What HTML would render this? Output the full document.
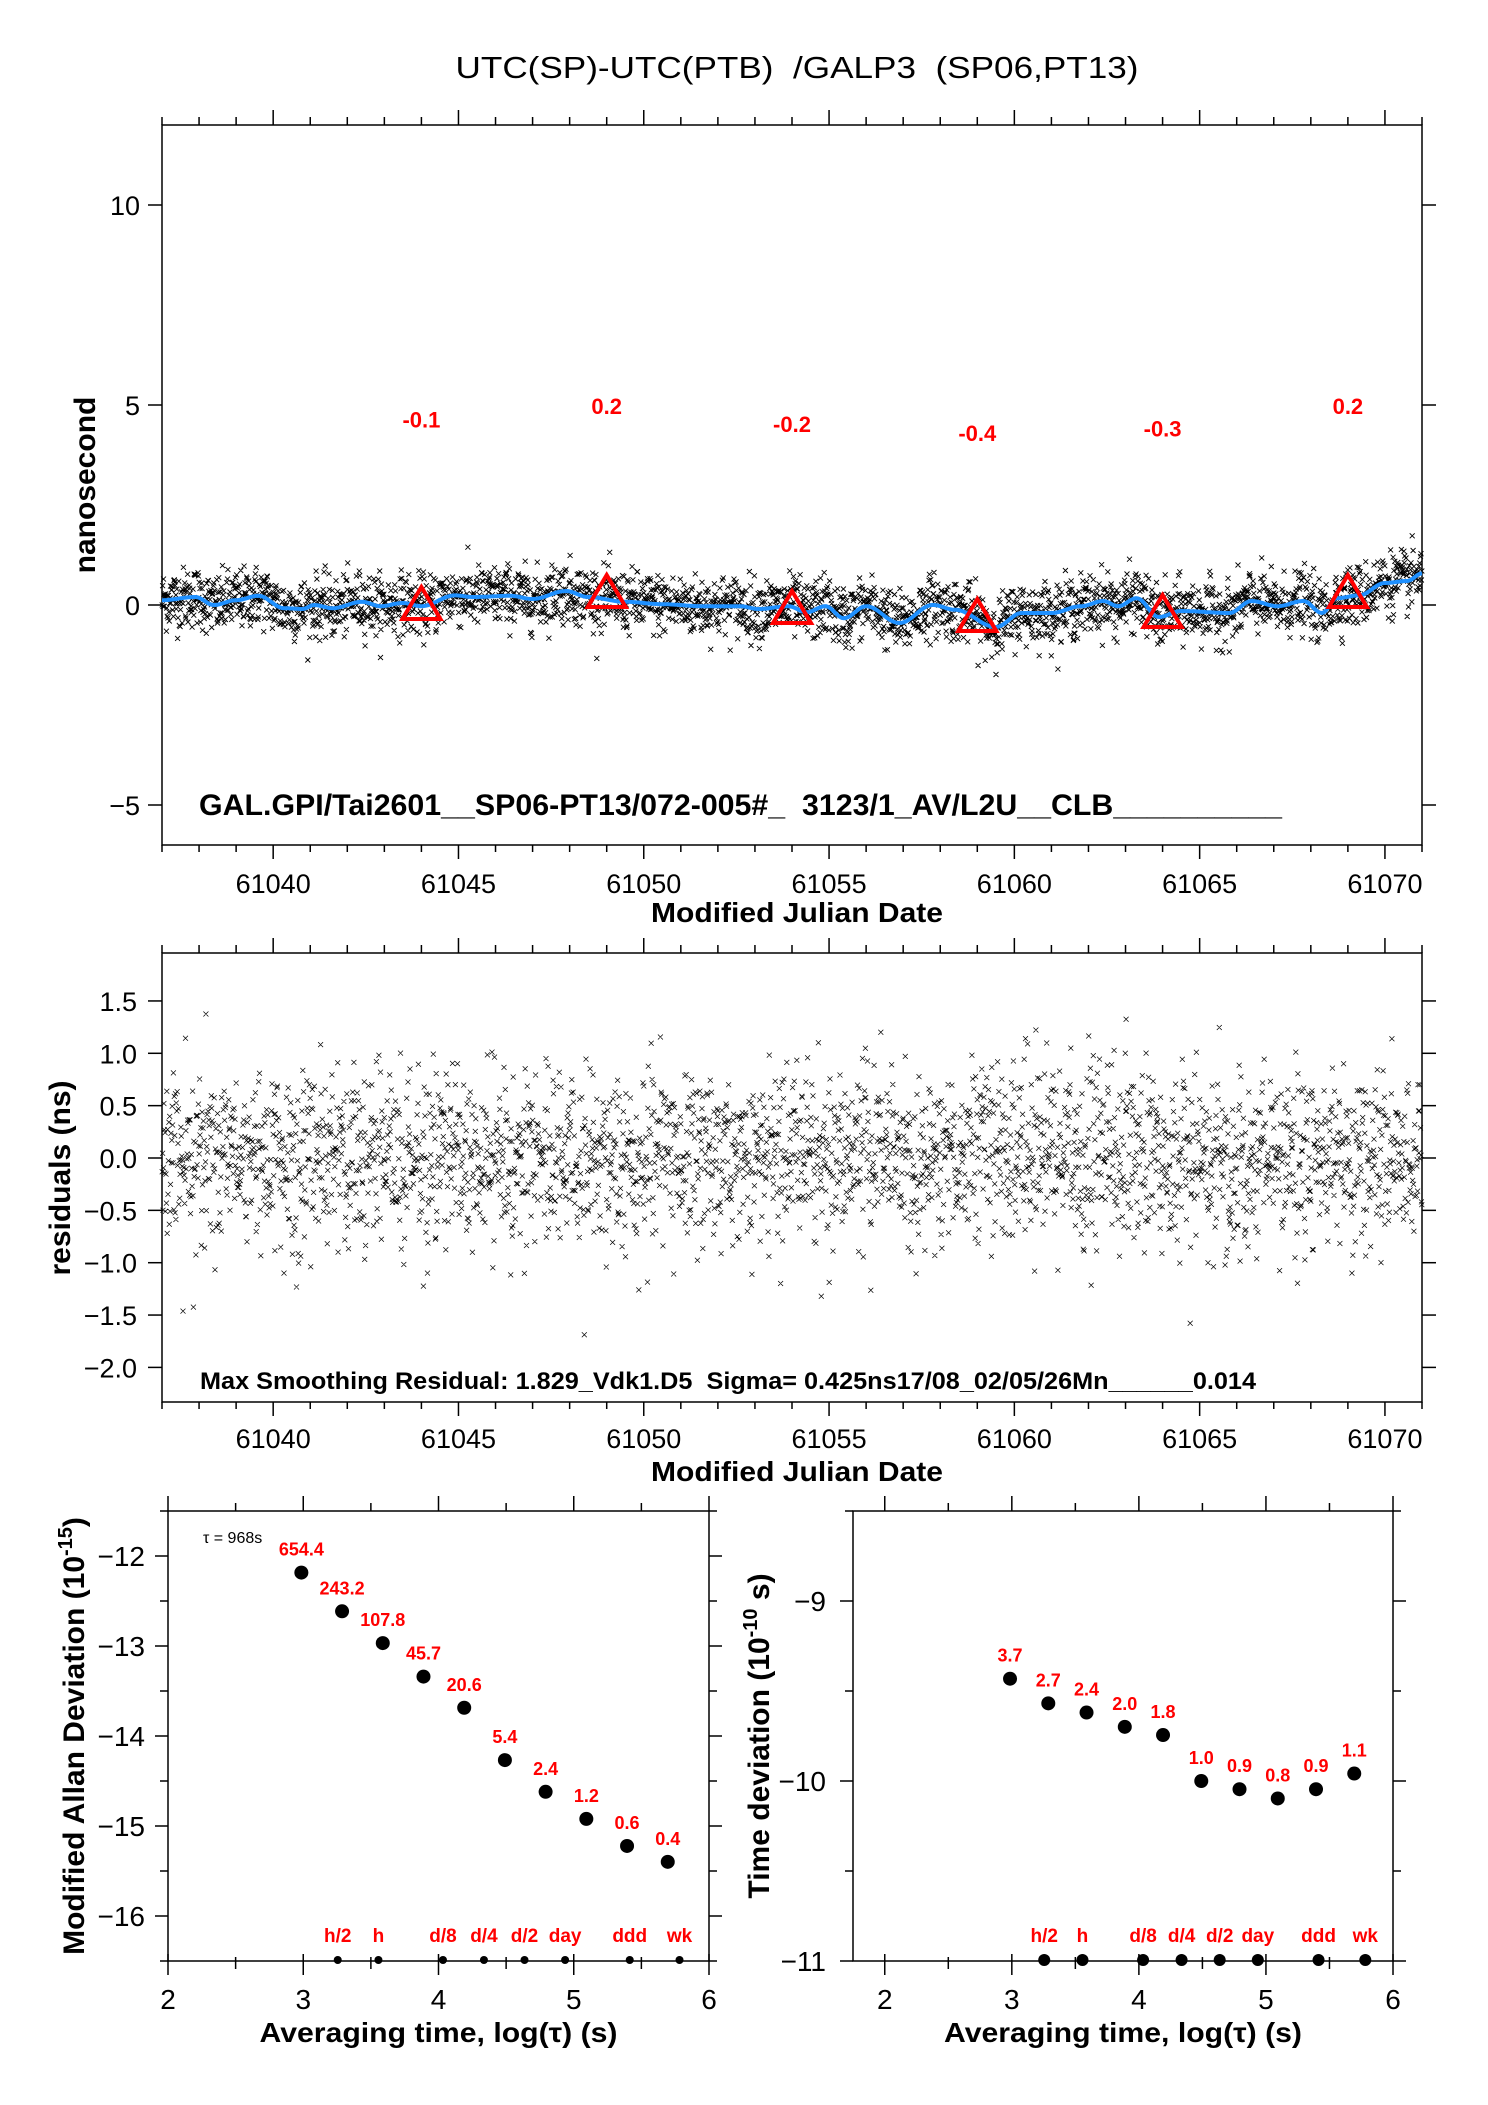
<!DOCTYPE html>
<html><head><meta charset="utf-8">
<style>
html,body{margin:0;padding:0;background:#fff;}
svg{display:block;}
text{font-family:"Liberation Sans",sans-serif;white-space:pre;}
</style></head>
<body>
<svg id="fig" xmlns="http://www.w3.org/2000/svg" width="1488" height="2105" viewBox="0 0 1488 2105">
<rect width="1488" height="2105" fill="#fff"/>
<text x="797" y="78" font-size="31" text-anchor="middle" xml:space="preserve" textLength="683" lengthAdjust="spacingAndGlyphs">UTC(SP)-UTC(PTB)  /GALP3  (SP06,PT13)</text>
<g id="g1"></g>
<g id="g2"></g>
<g id="g3"></g>
<g id="g4"></g>
</svg>
<script>
// ---- data: top panel smoothing curve ----
const smoothDays = [61037,61037.9,61038.4,61039,61039.6,61040.3,61040.8,61041.1,61041.6,61042.4,61042.9,61043.5,61044,61044.9,61045.4,61046.4,61047,61047.9,61048.5,61049.5,61050.5,61051.6,61052.6,61053.1,61053.9,61054.4,61054.9,61055.4,61056,61056.9,61057.8,61058.4,61059.5,61060.2,61061,61061.8,61062.4,61062.8,61063.3,61063.9,61064.5,61065.8,61066.4,61067.1,61067.8,61068.3,61068.7,61069.3,61070,61070.6,61071];
const smoothVals = [0.12,0.2,0,0.12,0.23,-0.08,-0.1,0,-0.08,0.08,-0.03,0.05,-0.03,0.24,0.2,0.23,0.15,0.35,0.2,0.08,0.02,-0.03,-0.03,-0.1,-0.03,-0.18,-0.03,-0.33,-0.03,-0.45,0,-0.12,-0.55,-0.2,-0.2,-0.03,0.1,-0.03,0.17,-0.3,-0.15,-0.2,0.1,-0.03,0.1,-0.2,0.17,0.24,0.55,0.6,0.79];
// ---- data: daily mean triangles ----
const triDays = [61044,61049,61054,61059,61064,61069];
const triVals = [-0.1,0.2,-0.2,-0.4,-0.3,0.2];
const triLabels = ["-0.1","0.2","-0.2","-0.4","-0.3","0.2"];
// ---- axis ticks ----
const mjdTicks = [61040,61045,61050,61055,61060,61065,61070];
const nsTicks = [10,5,0,-5];
const nsTickLabels = ["10","5","0","\u22125"];
const resTicks = [1.5,1.0,0.5,0.0,-0.5,-1.0,-1.5,-2.0];
const resTickLabels = ["1.5","1.0","0.5","0.0","\u22120.5","\u22121.0","\u22121.5","\u22122.0"];
// ---- data: stability ----
const logTau = [2.986,3.287,3.588,3.889,4.190,4.491,4.792,5.093,5.394,5.695];
const madevVals = [654.4,243.2,107.8,45.7,20.6,5.4,2.4,1.2,0.6,0.4];
const madevLabels = ["654.4","243.2","107.8","45.7","20.6","5.4","2.4","1.2","0.6","0.4"];
const tdevVals = [3.7,2.7,2.4,2.0,1.8,1.0,0.9,0.8,0.9,1.1];
const tdevLabels = ["3.7","2.7","2.4","2.0","1.8","1.0","0.9","0.8","0.9","1.1"];
const markNames = ["h/2","h","d/8","d/4","d/2","day","ddd","wk"];
const markLogTau = [3.255,3.556,4.033,4.336,4.636,4.936,5.414,5.782];
const adevTicks = [-12,-13,-14,-15,-16];
const tdevTicks = [-9,-10,-11];
const logTicks = [2,3,4,5,6];

const NS="http://www.w3.org/2000/svg";
function el(parent,tag,attrs,txt){const e=document.createElementNS(NS,tag);for(const k in attrs)e.setAttribute(k,attrs[k]);if(txt!==undefined)e.textContent=txt;parent.appendChild(e);return e;}

const X0=162,X1=1422,D0=61037,D1=61071;
const xd=d=>X0+(d-D0)*(X1-X0)/(D1-D0);
const y1=v=>605-40*v;
const y2=v=>1158-104.7*v;
const xa=t=>168+(t-2)*135.25;
const ya=v=>1556-(v+12)*90;
const xt=t=>853+(t-1.75)*127.06;
const yt=v=>1601-(v+9)*180;

function interp(d){for(let i=1;i<smoothDays.length;i++){if(d<=smoothDays[i]){const a=smoothDays[i-1],b=smoothDays[i];const f=(d-a)/(b-a);const s=(1-Math.cos(f*Math.PI))/2;return smoothVals[i-1]+(smoothVals[i]-smoothVals[i-1])*s;}}return smoothVals[smoothVals.length-1];}

// deterministic texture for measurement noise (scatter cloud only)
let seed=12345;function rnd(){seed=(seed*1103515245+12345)%2147483648;return seed/2147483648;}
function gauss(){let u=rnd()||1e-9,v=rnd();return Math.sqrt(-2*Math.log(u))*Math.cos(2*Math.PI*v);}
const N=3030;const resid=[];for(let i=0;i<N;i++)resid.push(gauss()*0.42);

function xPath(pts,s){let d="";for(const [x,y] of pts){d+=`M${(x-s).toFixed(1)} ${(y-s).toFixed(1)}L${(x+s).toFixed(1)} ${(y+s).toFixed(1)}M${(x-s).toFixed(1)} ${(y+s).toFixed(1)}L${(x+s).toFixed(1)} ${(y-s).toFixed(1)}`;}return d;}

function frame(g,x0,y0,x1,y1_,name){el(g,"rect",{x:x0,y:y0,width:x1-x0,height:y1_-y0,fill:"none",stroke:"#000","stroke-width":1.5,});}
function line(g,x0,y0,x1,y1_,w){el(g,"line",{x1:x0,y1:y0,x2:x1,y2:y1_,stroke:"#000","stroke-width":w||1.5});}

function mjdAxis(g,top,bot,labY){
  for(let d=D0;d<=D1;d++){const x=xd(d);const maj=d%5===0;
    line(g,x,bot,x,bot+(maj?14:7));line(g,x,top,x,top-(maj?15:8));}
  mjdTicks.forEach(t=>{const e=el(g,"text",{x:xd(t),y:labY,"font-size":27,"text-anchor":"middle"},String(t));});
}

// ===== Panel 1 =====
const g1=document.getElementById("g1");
frame(g1,X0,125,X1,845,"plot-frame");
mjdAxis(g1,125,845,893);
nsTicks.forEach((v,i)=>{const y=y1(v);line(g1,X0-14,y,X0,y);line(g1,X1,y,X1+14,y);
  const e=el(g1,"text",{x:140,y:y+10,"font-size":27,"text-anchor":"end"},nsTickLabels[i]);});
el(g1,"text",{x:0,y:0,"font-size":30,"font-weight":"bold","text-anchor":"middle",transform:"translate(95,485) rotate(-90)",},"nanosecond");
el(g1,"text",{x:797,y:922,"font-size":28,"font-weight":"bold","text-anchor":"middle",textLength:292,lengthAdjust:"spacingAndGlyphs",},"Modified Julian Date");
{const pts=[];for(let i=0;i<N;i++){const d=D0+(i+0.5)*(D1-D0)/N;pts.push([xd(d),y1(interp(d)+resid[i]*0.9)]);}
 const p=el(g1,"path",{d:xPath(pts,2.5),stroke:"#000","stroke-width":0.9,fill:"none"});
 }
{let d="";for(let x=X0;x<=X1;x+=2){const day=D0+(x-X0)*(D1-D0)/(X1-X0);d+=(x===X0?"M":"L")+x+" "+y1(interp(day)).toFixed(1);}
 const p=el(g1,"path",{d:d,stroke:"#1e90ff","stroke-width":4,fill:"none"});
 }
triDays.forEach((d,i)=>{const x=xd(d),y=y1(triVals[i]);
  const t=el(g1,"polygon",{points:`${x},${y-22} ${x-19},${y+10} ${x+19},${y+10}`,fill:"none",stroke:"#ff0000","stroke-width":4});
  
  const l=el(g1,"text",{x:x,y:423-45*triVals[i],"font-size":22,"font-weight":"bold",fill:"#ff0000","text-anchor":"middle"},triLabels[i]);
  });
el(g1,"text",{x:199,y:815,"font-size":30,"font-weight":"bold",textLength:1083,lengthAdjust:"spacingAndGlyphs",},"GAL.GPI/Tai2601__SP06-PT13/072-005#_  3123/1_AV/L2U__CLB__________");

// ===== Panel 2 =====
const g2=document.getElementById("g2");
frame(g2,X0,953,X1,1402,"plot-frame");
mjdAxis(g2,953,1402,1448);
resTicks.forEach((v,i)=>{const y=y2(v);line(g2,X0-14,y,X0,y);line(g2,X1,y,X1+14,y);
  const e=el(g2,"text",{x:137,y:y+10,"font-size":27,"text-anchor":"end"},resTickLabels[i]);});
el(g2,"text",{x:0,y:0,"font-size":30,"font-weight":"bold","text-anchor":"middle",transform:"translate(70,1178) rotate(-90)",},"residuals (ns)");
el(g2,"text",{x:797,y:1481,"font-size":28,"font-weight":"bold","text-anchor":"middle",textLength:292,lengthAdjust:"spacingAndGlyphs",},"Modified Julian Date");
{const pts=[];for(let i=0;i<N;i++){const d=D0+(i+0.5)*(D1-D0)/N;pts.push([xd(d),y2(resid[(i*7)%N])]);}
 const p=el(g2,"path",{d:xPath(pts,2.5),stroke:"#000","stroke-width":0.7,fill:"none"});
 }
el(g2,"text",{x:200,y:1389,"font-size":24,"font-weight":"bold",textLength:1056,lengthAdjust:"spacingAndGlyphs",},"Max Smoothing Residual: 1.829_Vdk1.D5  Sigma= 0.425ns17/08_02/05/26Mn______0.014");

// ===== stability panels =====
function stabPanel(g,fx,fy,ticksY,tickLblX,ymin,ymax,vals,labels,conv,ytitle,ytx,dotR){
  const L=fx(fx===xa?2:1.75),R=fx(6.0),T=1511,B=1961;
  frame(g,L,T,R,B,"plot-frame");
  for(let t=2;t<=6.001;t+=0.5){const x=fx(t);const maj=Math.abs(t-Math.round(t))<1e-6;
    line(g,x,T,x,T-(maj?15:8));line(g,x,B-(maj?7:4),x,B+(maj?14:8));}
  logTicks.forEach(t=>{const e=el(g,"text",{x:fx(t),y:2009,"font-size":28,"text-anchor":"middle"},String(t));});
  for(let v=ymax;v>=ymin-1e-6;v-=0.5){const y=fy(v);const maj=Math.abs(v-Math.round(v))<1e-6;
    line(g,L-(maj?13:8),y,L,y);line(g,R,y,R+(maj?13:8),y);}
  ticksY.forEach(v=>{const e=el(g,"text",{x:tickLblX,y:fy(v)+10,"font-size":28,"text-anchor":"end"},"\u2212"+Math.abs(v));});
  const xl=el(g,"text",{x:(L+R)/2,y:2042,"font-size":28,"font-weight":"bold","text-anchor":"middle",textLength:358,lengthAdjust:"spacingAndGlyphs"},"Averaging time, log(\u03c4) (s)");
  
  const yl=el(g,"text",{x:0,y:0,"font-size":30,"font-weight":"bold","text-anchor":"middle",transform:`translate(${ytx},1736) rotate(-90)`});
  yl.innerHTML=ytitle;
  logTau.forEach((t,i)=>{const x=fx(t),y=fy(conv(vals[i]));
    const c=el(g,"circle",{cx:x,cy:y,r:7,fill:"#000"});
    const l=el(g,"text",{x:x,y:y-17,"font-size":18,"font-weight":"bold",fill:"#ff0000","text-anchor":"middle"},labels[i]);
    });
  markLogTau.forEach((t,i)=>{const x=fx(t);
    const c=el(g,"circle",{cx:x,cy:B-1,r:dotR,fill:"#000"});
    const l=el(g,"text",{x:x,y:B-19,"font-size":19,"font-weight":"bold",fill:"#ff0000","text-anchor":"middle"},markNames[i]);
    });
}
const g3=document.getElementById("g3");
stabPanel(g3,xa,ya,adevTicks,145,-16.5,-11.5,madevVals,madevLabels,v=>Math.log10(v*1e-15),'Modified Allan Deviation (10<tspan dy="-12" font-size="20">-15</tspan><tspan dy="12">)</tspan>',84,4);
el(g3,"text",{x:203,y:1543,"font-size":16,},"\u03c4 = 968s");
const g4=document.getElementById("g4");
stabPanel(g4,xt,yt,tdevTicks,826,-11,-8.5,tdevVals,tdevLabels,v=>Math.log10(v*1e-10),'Time deviation (10<tspan dy="-12" font-size="20">-10</tspan><tspan dy="12"> s)</tspan>',769,6);
</script>
</body></html>
